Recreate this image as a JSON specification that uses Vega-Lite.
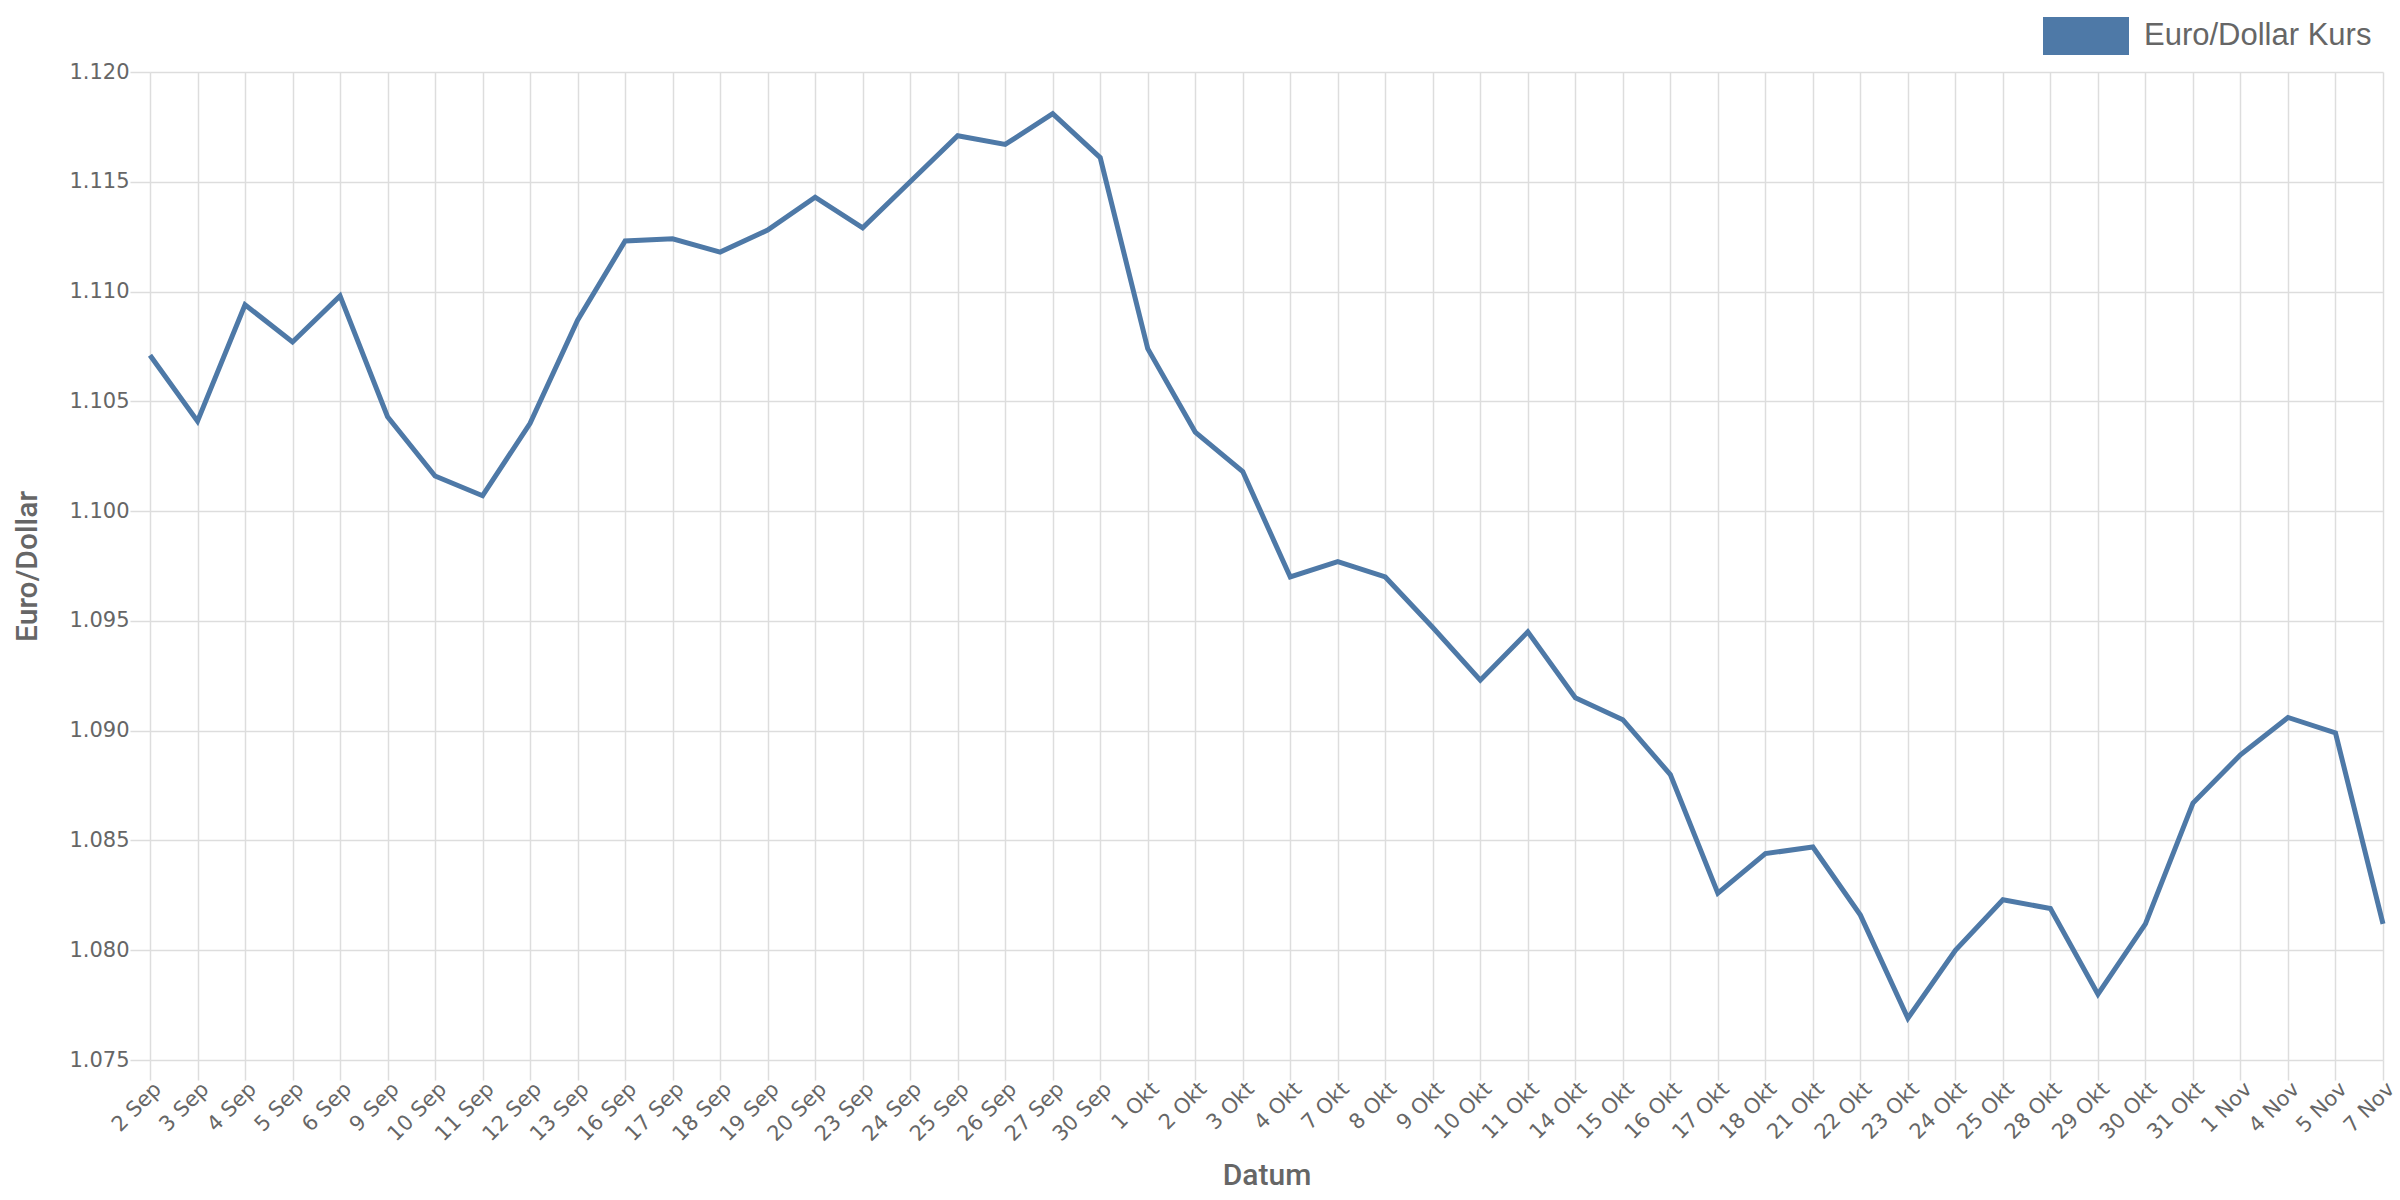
{
  "$schema": "https://vega.github.io/schema/vega-lite/v6.json",
  "width": 2233,
  "height": 988,
  "autosize": {"type": "none"},
  "padding": {"left": 150, "top": 72, "right": 17, "bottom": 140},
  "background": "white",
  "config": {
    "font": "Liberation Sans",
    "view": {"stroke": null},
    "axis": {
      "grid": true,
      "gridColor": "#dddddd",
      "gridWidth": 1.5,
      "tickColor": "#dddddd",
      "tickWidth": 1.5,
      "tickSize": 20,
      "domain": false,
      "labelColor": "#666666",
      "labelFont": "DejaVu Sans",
      "labelFontSize": 21,
      "titleColor": "#666666",
      "titleFont": "Roboto",
      "titleFontSize": 30,
      "titleFontWeight": 500
    }
  },
  "data": {
    "values": [
      {"Datum": "2 Sep", "Kurs": 1.1071, "Serie": "Euro/Dollar Kurs"},
      {"Datum": "3 Sep", "Kurs": 1.1041, "Serie": "Euro/Dollar Kurs"},
      {"Datum": "4 Sep", "Kurs": 1.1094, "Serie": "Euro/Dollar Kurs"},
      {"Datum": "5 Sep", "Kurs": 1.1077, "Serie": "Euro/Dollar Kurs"},
      {"Datum": "6 Sep", "Kurs": 1.1098, "Serie": "Euro/Dollar Kurs"},
      {"Datum": "9 Sep", "Kurs": 1.1043, "Serie": "Euro/Dollar Kurs"},
      {"Datum": "10 Sep", "Kurs": 1.1016, "Serie": "Euro/Dollar Kurs"},
      {"Datum": "11 Sep", "Kurs": 1.1007, "Serie": "Euro/Dollar Kurs"},
      {"Datum": "12 Sep", "Kurs": 1.1040, "Serie": "Euro/Dollar Kurs"},
      {"Datum": "13 Sep", "Kurs": 1.1087, "Serie": "Euro/Dollar Kurs"},
      {"Datum": "16 Sep", "Kurs": 1.1123, "Serie": "Euro/Dollar Kurs"},
      {"Datum": "17 Sep", "Kurs": 1.1124, "Serie": "Euro/Dollar Kurs"},
      {"Datum": "18 Sep", "Kurs": 1.1118, "Serie": "Euro/Dollar Kurs"},
      {"Datum": "19 Sep", "Kurs": 1.1128, "Serie": "Euro/Dollar Kurs"},
      {"Datum": "20 Sep", "Kurs": 1.1143, "Serie": "Euro/Dollar Kurs"},
      {"Datum": "23 Sep", "Kurs": 1.1129, "Serie": "Euro/Dollar Kurs"},
      {"Datum": "24 Sep", "Kurs": 1.1150, "Serie": "Euro/Dollar Kurs"},
      {"Datum": "25 Sep", "Kurs": 1.1171, "Serie": "Euro/Dollar Kurs"},
      {"Datum": "26 Sep", "Kurs": 1.1167, "Serie": "Euro/Dollar Kurs"},
      {"Datum": "27 Sep", "Kurs": 1.1181, "Serie": "Euro/Dollar Kurs"},
      {"Datum": "30 Sep", "Kurs": 1.1161, "Serie": "Euro/Dollar Kurs"},
      {"Datum": "1 Okt", "Kurs": 1.1074, "Serie": "Euro/Dollar Kurs"},
      {"Datum": "2 Okt", "Kurs": 1.1036, "Serie": "Euro/Dollar Kurs"},
      {"Datum": "3 Okt", "Kurs": 1.1018, "Serie": "Euro/Dollar Kurs"},
      {"Datum": "4 Okt", "Kurs": 1.0970, "Serie": "Euro/Dollar Kurs"},
      {"Datum": "7 Okt", "Kurs": 1.0977, "Serie": "Euro/Dollar Kurs"},
      {"Datum": "8 Okt", "Kurs": 1.0970, "Serie": "Euro/Dollar Kurs"},
      {"Datum": "9 Okt", "Kurs": 1.0947, "Serie": "Euro/Dollar Kurs"},
      {"Datum": "10 Okt", "Kurs": 1.0923, "Serie": "Euro/Dollar Kurs"},
      {"Datum": "11 Okt", "Kurs": 1.0945, "Serie": "Euro/Dollar Kurs"},
      {"Datum": "14 Okt", "Kurs": 1.0915, "Serie": "Euro/Dollar Kurs"},
      {"Datum": "15 Okt", "Kurs": 1.0905, "Serie": "Euro/Dollar Kurs"},
      {"Datum": "16 Okt", "Kurs": 1.0880, "Serie": "Euro/Dollar Kurs"},
      {"Datum": "17 Okt", "Kurs": 1.0826, "Serie": "Euro/Dollar Kurs"},
      {"Datum": "18 Okt", "Kurs": 1.0844, "Serie": "Euro/Dollar Kurs"},
      {"Datum": "21 Okt", "Kurs": 1.0847, "Serie": "Euro/Dollar Kurs"},
      {"Datum": "22 Okt", "Kurs": 1.0816, "Serie": "Euro/Dollar Kurs"},
      {"Datum": "23 Okt", "Kurs": 1.0769, "Serie": "Euro/Dollar Kurs"},
      {"Datum": "24 Okt", "Kurs": 1.0800, "Serie": "Euro/Dollar Kurs"},
      {"Datum": "25 Okt", "Kurs": 1.0823, "Serie": "Euro/Dollar Kurs"},
      {"Datum": "28 Okt", "Kurs": 1.0819, "Serie": "Euro/Dollar Kurs"},
      {"Datum": "29 Okt", "Kurs": 1.0780, "Serie": "Euro/Dollar Kurs"},
      {"Datum": "30 Okt", "Kurs": 1.0812, "Serie": "Euro/Dollar Kurs"},
      {"Datum": "31 Okt", "Kurs": 1.0867, "Serie": "Euro/Dollar Kurs"},
      {"Datum": "1 Nov", "Kurs": 1.0889, "Serie": "Euro/Dollar Kurs"},
      {"Datum": "4 Nov", "Kurs": 1.0906, "Serie": "Euro/Dollar Kurs"},
      {"Datum": "5 Nov", "Kurs": 1.0899, "Serie": "Euro/Dollar Kurs"},
      {"Datum": "7 Nov", "Kurs": 1.0812, "Serie": "Euro/Dollar Kurs"}
    ]
  },
  "mark": {"type": "line", "strokeWidth": 5, "strokeJoin": "miter"},
  "encoding": {
    "x": {
      "field": "Datum",
      "type": "ordinal",
      "sort": null,
      "scale": {"type": "point", "padding": 0},
      "axis": {
        "title": "Datum",
        "grid": true,
        "labelAngle": -45,
        "labelAlign": "right",
        "labelBaseline": "top",
        "labelPadding": -2,
        "titleY": 124,
        "titleBaseline": "alphabetic"
      }
    },
    "y": {
      "field": "Kurs",
      "type": "quantitative",
      "scale": {"domain": [1.075, 1.12], "zero": false, "nice": false},
      "axis": {
        "title": "Euro/Dollar",
        "values": [1.075, 1.08, 1.085, 1.09, 1.095, 1.1, 1.105, 1.11, 1.115, 1.12],
        "format": ".3f",
        "labelPadding": 1,
        "titleX": -108,
        "titleY": 494,
        "titleAngle": -90,
        "titleBaseline": "bottom",
        "titleAlign": "center"
      }
    },
    "color": {
      "field": "Serie",
      "type": "nominal",
      "scale": {"range": ["#4e79a7"]},
      "legend": {
        "title": null,
        "orient": "none",
        "legendX": 1893,
        "legendY": -79,
        "padding": 0,
        "symbolType": "M-1,-0.442H1V0.442H-1Z",
        "symbolSize": 7396,
        "symbolFillColor": "#4e79a7",
        "symbolStrokeWidth": 0,
        "labelFont": "Liberation Sans",
        "labelFontSize": 31,
        "labelColor": "#666666",
        "labelOffset": 15,
        "labelLimit": 400
      }
    }
  }
}
